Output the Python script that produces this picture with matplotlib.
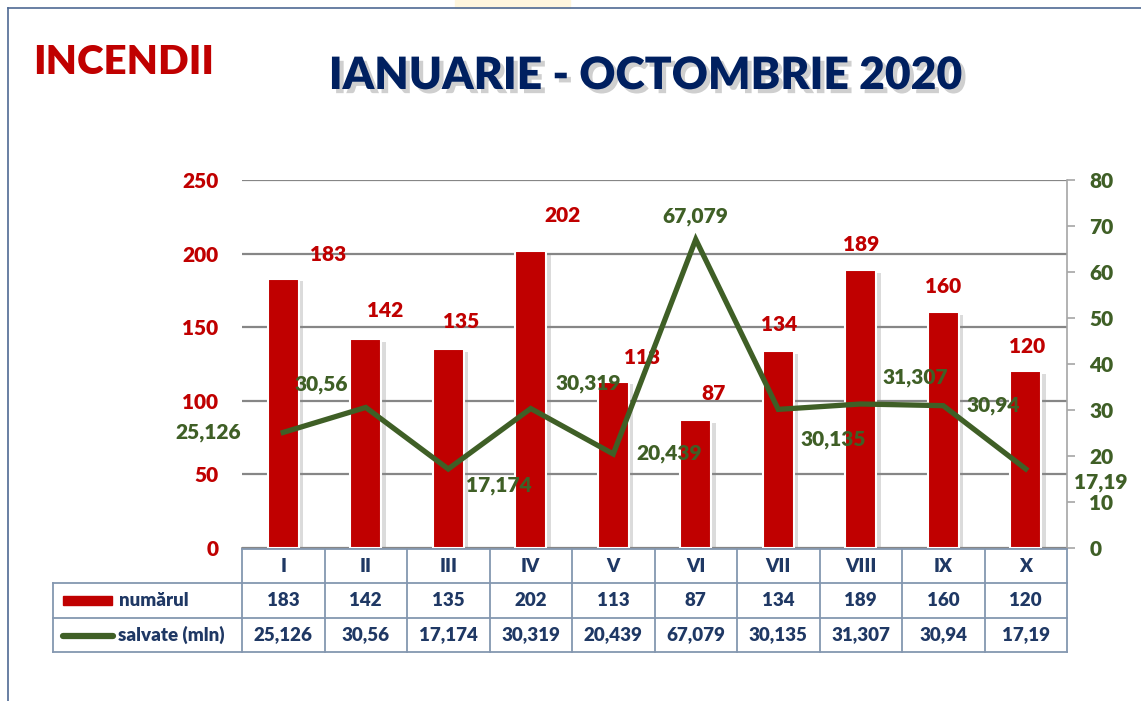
import matplotlib
matplotlib.use('Agg')
import matplotlib.pyplot as plt
import matplotlib.patheffects as pe
from matplotlib.transforms import blended_transform_factory
from matplotlib.lines import Line2D
from matplotlib.patches import Rectangle
import numpy as np

plt.rcParams['font.family'] = ['Lato', 'DejaVu Sans']
GREU = 'heavy'

# date
luni = ['I', 'II', 'III', 'IV', 'V', 'VI', 'VII', 'VIII', 'IX', 'X']
numarul = [183, 142, 135, 202, 113, 87, 134, 189, 160, 120]
salvate = [25.126, 30.56, 17.174, 30.319, 20.439, 67.079, 30.135, 31.307, 30.94, 17.19]

# pozitiile etichetelor (pixeli fata de varful barei / punctului)
off_bare = [(45, 24), (19, 28), (13, 28), (32, 35), (29, 24), (18, 26), (1, 26), (0, 25), (0, 26), (1, 25)]
off_linie = [(-75, 0), (-45, 23), (51, -17), (57, 25), (56, 0), (0, 23), (55, -30), (55, 26), (50, 0), (75, -14)]

ROSU = '#C00000'
VERDE = '#3F5F26'
NAVY = '#1F3864'
GRI = '#868686'
LINIE_TAB = '#8497B0'

W, H = 1141, 701


def fx(px):
    return px / W


def fy(py):
    return 1 - py / H


def fmt(v):
    return f'{v:g}'.replace('.', ',')


fig = plt.figure(figsize=(W / 100, H / 100), dpi=100)
ax = fig.add_axes([fx(242), fy(548), fx(1067) - fx(242), fy(180) - fy(548)])
ax2 = ax.twinx()

x = np.arange(len(luni))

# bare
bars = ax.bar(x, numarul, width=0.38, color=ROSU, edgecolor='white', linewidth=1.5, zorder=3)
for b in bars:
    b.set_path_effects([pe.SimplePatchShadow(offset=(3, -2), shadow_rgbFace='#888888', alpha=0.3), pe.Normal()])

for i, v in enumerate(numarul):
    ax.annotate(str(v), xy=(x[i], v), xytext=off_bare[i], textcoords='offset pixels',
                ha='center', va='center', color=ROSU, fontsize=15, fontweight=GREU, zorder=5)

# linie
ax2.plot(x, salvate, color=VERDE, linewidth=3.8, solid_joinstyle='miter', zorder=4)
for i, v in enumerate(salvate):
    ax2.annotate(fmt(v), xy=(x[i], v), xytext=off_linie[i], textcoords='offset pixels',
                 ha='center', va='center', color=VERDE, fontsize=15, fontweight=GREU, zorder=6)

ax.set_xlim(-0.5, len(luni) - 0.5)
ax.set_ylim(0, 250)
ax2.set_ylim(0, 80)
ax.set_yticks(np.arange(0, 251, 50))
ax2.set_yticks(np.arange(0, 81, 10))
ax.set_xticks([])

ax.grid(axis='y', color=GRI, linewidth=1.6, zorder=0)
ax.set_axisbelow(True)
for s in ['left', 'top', 'right']:
    ax.spines[s].set_visible(False)
ax.spines['bottom'].set_color(GRI)
ax.spines['bottom'].set_linewidth(1.2)
for s in ['left', 'top', 'bottom']:
    ax2.spines[s].set_visible(False)
ax2.spines['right'].set_color('#A6A6A6')
ax2.spines['right'].set_linewidth(1.2)

ax.tick_params(axis='y', length=0, pad=17, labelsize=15, labelcolor=ROSU)
ax2.tick_params(axis='y', length=6, width=1.2, color='#A6A6A6', pad=10, labelsize=15, labelcolor=VERDE)
for t in ax.get_yticklabels() + ax2.get_yticklabels():
    t.set_fontweight(GREU)

# tabel
tr = blended_transform_factory(ax.transData, fig.transFigure)
muchii = np.arange(len(luni) + 1) - 0.5
r_sus, r1, r2, r_jos = fy(549), fy(583), fy(618), fy(652)
x_stanga_data = ax.transData.inverted().transform(fig.transFigure.transform((fx(53), 0)))[0]

kw = dict(color=LINIE_TAB, linewidth=1.3, transform=tr, clip_on=False)
fig.add_artist(Line2D([muchii[0], muchii[-1]], [r_sus, r_sus], **kw))
for yy in [r1, r2, r_jos]:
    fig.add_artist(Line2D([x_stanga_data, muchii[-1]], [yy, yy], **kw))
for m in muchii:
    fig.add_artist(Line2D([m, m], [r_sus, r_jos], **kw))
fig.add_artist(Line2D([x_stanga_data, x_stanga_data], [r1, r_jos], **kw))

for i in range(len(luni)):
    fig.text(x[i], (r_sus + r1) / 2, luni[i], transform=tr, ha='center', va='center',
             color=NAVY, fontsize=13.5, fontweight=GREU)
    fig.text(x[i], (r1 + r2) / 2, str(numarul[i]), transform=tr, ha='center', va='center',
             color=NAVY, fontsize=13.5, fontweight=GREU)
    fig.text(x[i], (r2 + r_jos) / 2, fmt(salvate[i]), transform=tr, ha='center', va='center',
             color=NAVY, fontsize=13.5, fontweight=GREU)

# legenda din tabel
fig.add_artist(Rectangle((fx(63), fy(605)), fx(112) - fx(63), fy(596) - fy(605),
                         transform=fig.transFigure, color=ROSU))
fig.add_artist(Line2D([fx(63), fx(113)], [fy(636), fy(636)], transform=fig.transFigure,
                      color=VERDE, linewidth=4.5, solid_capstyle='round'))
fig.text(fx(119), (r1 + r2) / 2, 'numărul', ha='left', va='center', color=NAVY, fontsize=13.5, fontweight=GREU)
fig.text(fx(118), (r2 + r_jos) / 2, 'salvate (mln)', ha='left', va='center', color=NAVY, fontsize=13.5, fontweight=GREU)

# titluri
fig.text(fx(33), fy(62), 'INCENDII', ha='left', va='center', color=ROSU, fontsize=29, fontweight=GREU)
fig.text(fx(646), fy(76), 'IANUARIE - OCTOMBRIE 2020', ha='center', va='center', color='#002060',
         fontsize=32, fontweight=GREU,
         path_effects=[pe.SimplePatchShadow(offset=(3, -3), shadow_rgbFace='#888888', alpha=0.4), pe.Normal()])

# chenar diapozitiv
fig.add_artist(Rectangle((fx(455), fy(8)), fx(570) - fx(455), 1 - fy(8), transform=fig.transFigure,
                         color='#FFF6DD', zorder=0))
fig.add_artist(Line2D([fx(8), 1], [fy(8), fy(8)], transform=fig.transFigure, color='#4F6A94', linewidth=1.2))
fig.add_artist(Line2D([fx(8), fx(8)], [fy(8), 0], transform=fig.transFigure, color='#4F6A94', linewidth=1.2))

fig.savefig('out.png', dpi=100)
